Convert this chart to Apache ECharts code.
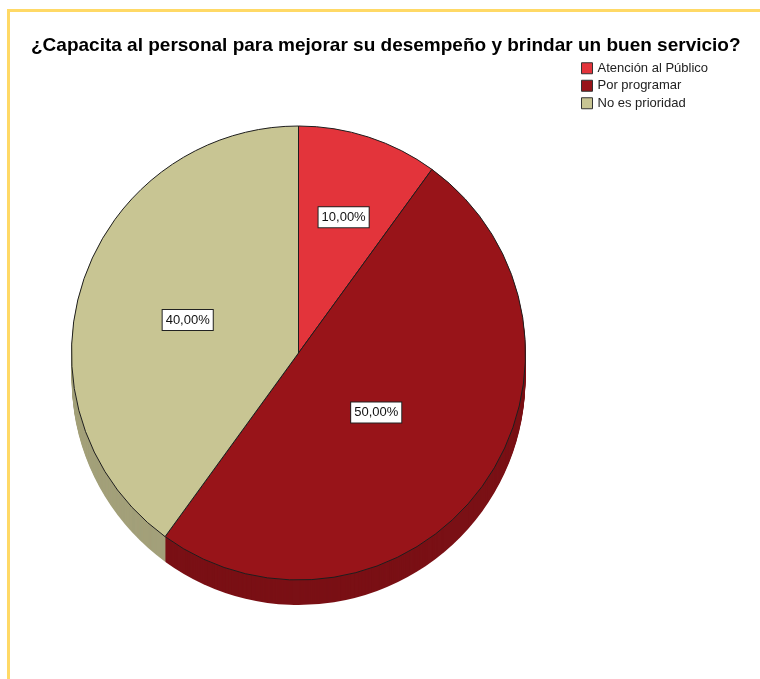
<!DOCTYPE html>
<html>
<head>
<meta charset="utf-8">
<script src="https://cdn.jsdelivr.net/npm/echarts@6/dist/echarts.min.js"></script>
<style>
  html, body { margin: 0; padding: 0; background: #fff; }
  #chart { position: absolute; left: 0; top: 0; width: 760px; height: 679px; }
  #frame {
    position: absolute; left: 7px; top: 9px; width: 760px; height: 680px;
    border-left: 3px solid #FFD966; border-top: 3px solid #FFD966;
    pointer-events: none;
  }
</style>
</head>
<body>
<div id="chart"></div>
<div id="frame"></div>
<script>
// Survey answers (percent of respondents)
const categories = ['Atención al Público', 'Por programar', 'No es prioridad'];
const percentages = [10, 50, 40];

// Colours: top face and the darker side wall of each slice
const topColors = ['#E3343B', '#981419', '#C8C593'];
const sideColors = ['#B32329', '#7A1015', '#A3A07A'];

// Pie geometry (pixels)
const CX = 298.5, CY = 353, R = 227, DEPTH = 25;
// Radial position of each value box, as a fraction of the radius
const labelRadius = [0.63, 0.41, 0.5];

const total = percentages.reduce((a, b) => a + b, 0);
const fmt = v => v.toFixed(2).replace('.', ',') + '%';
const FONT = 'Arial, "Liberation Sans", sans-serif';

const topData = categories.map((name, i) => ({
  name, value: percentages[i], itemStyle: { color: topColors[i] }
}));

const series = [{
  type: 'pie',
  name: 'top',
  z: 3,
  center: [CX, CY],
  radius: [0, R],
  startAngle: 90,
  clockwise: true,
  animation: false,
  silent: true,
  data: topData,
  itemStyle: { borderColor: '#1e1e1e', borderWidth: 1 },
  label: {
    show: true,
    position: 'inside',
    formatter: p => fmt(p.value),
    fontFamily: FONT,
    fontSize: 13,
    color: '#111',
    backgroundColor: '#fff',
    borderColor: '#222',
    borderWidth: 1,
    padding: [4, 3, 3, 3]
  },
  labelLine: { show: false },
  labelLayout: function (params) {
    const i = params.dataIndex;
    let before = 0;
    for (let k = 0; k < i; k++) before += percentages[k];
    const mid = (before + percentages[i] / 2) / total * 2 * Math.PI;
    const shift = (labelRadius[i] - 0.5) * R;
    return { dx: shift * Math.sin(mid), dy: -shift * Math.cos(mid) + 3 };
  }
}];

// Side wall: stacked copies of the pie, shifted downward
for (let k = DEPTH; k >= 1; k--) {
  series.push({
    type: 'pie',
    name: 'side' + k,
    z: 1,
    center: [CX, CY + k],
    radius: [0, R],
    startAngle: 90,
    clockwise: true,
    animation: false,
    silent: true,
    legendHoverLink: false,
    label: { show: false },
    labelLine: { show: false },
    itemStyle: { borderWidth: 0 },
    data: categories.map((name, i) => ({
      name, value: percentages[i], itemStyle: { color: sideColors[i] }
    }))
  });
}

const chart = echarts.init(document.getElementById('chart'), null, { renderer: 'canvas' });
chart.setOption({
  backgroundColor: 'transparent',
  title: {
    text: '¿Capacita al personal para mejorar su desempeño y brindar un buen servicio?',
    left: 26,
    top: 31,
    textStyle: {
      fontFamily: FONT,
      fontSize: 19,
      fontWeight: 'bold',
      color: '#000'
    }
  },
  legend: {
    orient: 'vertical',
    left: 581,
    top: 61,
    data: categories,
    icon: 'rect',
    itemWidth: 11,
    itemHeight: 11,
    itemGap: 3,
    padding: 0,
    selectedMode: false,
    itemStyle: { borderColor: '#333', borderWidth: 1 },
    textStyle: {
      fontFamily: FONT,
      fontSize: 13,
      color: '#222',
      lineHeight: 14.5,
      padding: [0, 0, 0, 0]
    }
  },
  series
});
</script>
</body>
</html>
